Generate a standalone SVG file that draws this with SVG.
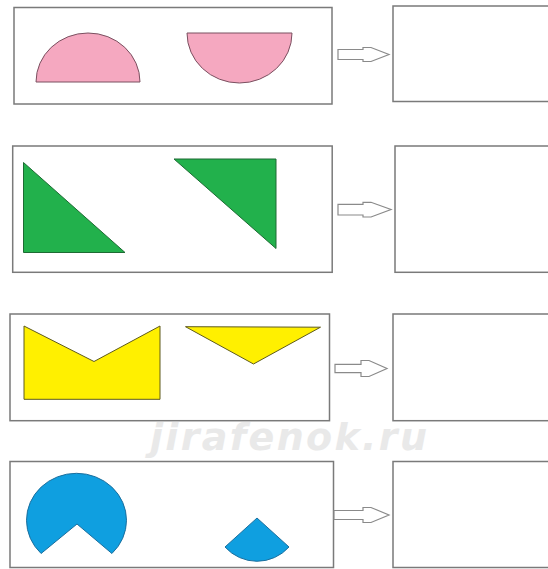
<svg xmlns="http://www.w3.org/2000/svg" width="548" height="569" viewBox="0 0 548 569">
<style>
.box{fill:#fff;stroke:#7a7a7a;stroke-width:1.5}
.arrow{fill:#fff;stroke:#8a8a8a;stroke-width:1.2;stroke-linejoin:miter}
.pink{fill:#f5a8c0;stroke:#7a5060;stroke-width:1}
.green{fill:#22b14c;stroke:#1d6b33;stroke-width:1}
.yellow{fill:#fff000;stroke:#5e5a1c;stroke-width:1}
.blue{fill:#0f9fe0;stroke:#1b6f9e;stroke-width:1}
.wm{font-family:"DejaVu Sans","Liberation Sans",sans-serif;font-weight:bold;font-style:italic;font-size:38px;fill:#e9e9e9}
</style>
<rect width="548" height="569" fill="#fff"/>
<text class="wm" x="150" y="450" textLength="277" lengthAdjust="spacing">jirafenok.ru</text>

<g id="row1-left">
<rect class="box" x="14" y="7.5" width="318" height="96.5"/>
<path class="pink" d="M36 82 A52 49 0 0 1 140 82 Z"/>
<path class="pink" d="M187 33 L292 33 A52.5 50 0 0 1 187 33 Z"/>
</g>
<g id="row1-right"><rect class="box" x="393" y="6" width="170" height="95.5"/></g>

<g id="row2-left">
<rect class="box" x="12.7" y="146" width="319.5" height="126.3"/>
<polygon class="green" points="23.5,162.5 23.5,252.5 125,252.5"/>
<polygon class="green" points="174,159 276,159 276,248.5"/>
</g>
<g id="row2-right"><rect class="box" x="395" y="146" width="170" height="126.3"/></g>

<g id="row3-left">
<rect class="box" x="10" y="314" width="319.5" height="106.7"/>
<polygon class="yellow" points="24,326 94,361.5 160,326 160,399.3 24,399.3"/>
<polygon class="yellow" points="185.5,326.7 320.5,327.2 253.5,364"/>
</g>
<g id="row3-right"><rect class="box" x="393" y="314" width="170" height="106.7"/></g>

<g id="row4-left">
<rect class="box" x="10" y="461.5" width="323.5" height="106"/>
<path class="blue" d="M77 524 L41.1 553.5 A50 47 0 1 1 111.9 553.5 Z"/>
<path class="blue" d="M257 518 L225 547 A43 43 0 0 0 289 547 Z"/>
</g>
<g id="row4-right"><rect class="box" x="393" y="461.5" width="170" height="106"/></g>

<g id="connectors">
<polygon class="arrow" points="338,49.5 363,49.5 363,47.5 371,47.5 389,54.5 371,61.5 363,61.5 363,59.5 338,59.5"/>
<polygon class="arrow" points="338,204.3 363,204.3 363,202.3 371,202.3 391,209.5 371,217 363,217 363,215 338,215"/>
<polygon class="arrow" points="335,364.3 361,364.3 361,360.5 369,360.5 387,368.5 369,376.5 361,376.5 361,372.7 335,372.7"/>
<polygon class="arrow" points="334,510.5 363,510.5 363,507.5 371,507.5 389,515 371,522.5 363,522.5 363,519.5 334,519.5"/>
</g>
</svg>
